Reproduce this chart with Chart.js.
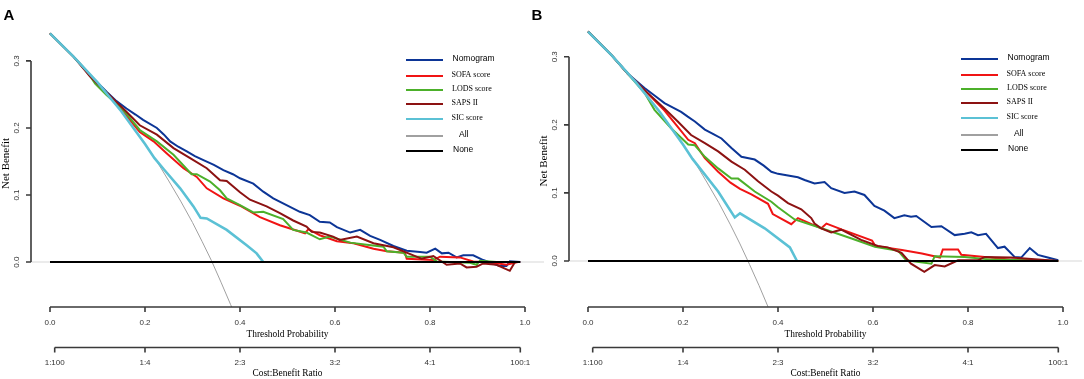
<!DOCTYPE html>
<html>
<head>
<meta charset="utf-8">
<script src="https://cdn.jsdelivr.net/npm/chart.js@4.4.1/dist/chart.umd.min.js"></script>
<style>
  html, body { margin: 0; padding: 0; background: #fff; }
  #wrap { position: relative; width: 1084px; height: 379px; overflow: hidden; }
  canvas { position: absolute; top: 0; }
</style>
</head>
<body>
<div id="wrap">
  <canvas id="chartA" width="545" height="379" style="left:0"></canvas>
  <canvas id="chartB" width="559" height="379" style="left:525px"></canvas>
</div>
<script>
// Кривые решений (decision curves), панели A и B
// точки: [порог, чистая выгода]

const seriesLabels = ['Nomogram', 'SOFA score', 'LODS score', 'SAPS II', 'SIC score', 'All', 'None'];
const seriesColors = ['#0c3596', '#f01414', '#4cb02a', '#8c1212', '#5bc1d5', '#a0a0a0', '#000000'];

const yTicks = [0.0, 0.1, 0.2, 0.3];
const xTicks = [0.0, 0.2, 0.4, 0.6, 0.8, 1.0];
const ratioTicks = [1 / 101, 0.2, 0.4, 0.6, 0.8, 100 / 101];
const ratioLabels = ['1:100', '1:4', '2:3', '3:2', '4:1', '100:1'];

// ---- панель A ----
const nomogramA = [[0,0.341],[0.05,0.306],[0.084,0.279],[0.119,0.254],[0.14,0.24],[0.161,0.229],[0.18,0.22],[0.196,0.212],[0.225,0.2],[0.24,0.19],[0.253,0.18],[0.27,0.172],[0.288,0.165],[0.305,0.158],[0.323,0.152],[0.345,0.145],[0.365,0.137],[0.385,0.131],[0.4,0.125],[0.428,0.117],[0.449,0.105],[0.47,0.095],[0.498,0.085],[0.526,0.075],[0.547,0.07],[0.568,0.06],[0.589,0.059],[0.604,0.052],[0.632,0.044],[0.653,0.048],[0.674,0.039],[0.695,0.033],[0.723,0.024],[0.751,0.017],[0.779,0.015],[0.793,0.014],[0.811,0.02],[0.825,0.013],[0.839,0.014],[0.856,0.007],[0.87,0.01],[0.891,0.01],[0.912,0.003],[0.947,-0.006],[0.961,-0.006],[0.968,0.001],[0.99,0]];
const sofaA = [[0,0.341],[0.05,0.306],[0.084,0.279],[0.119,0.252],[0.154,0.224],[0.189,0.194],[0.218,0.18],[0.246,0.162],[0.281,0.14],[0.309,0.127],[0.33,0.11],[0.365,0.095],[0.4,0.084],[0.442,0.067],[0.484,0.055],[0.537,0.043],[0.544,0.049],[0.568,0.04],[0.604,0.031],[0.639,0.028],[0.681,0.02],[0.709,0.016],[0.747,0.014],[0.751,0.005],[0.807,0.003],[0.821,0.008],[0.863,0.007],[0.891,0.001],[0.933,-0.001],[0.961,-0.004],[0.985,0]];
const lodsA = [[0,0.341],[0.05,0.306],[0.08,0.282],[0.095,0.266],[0.119,0.249],[0.154,0.227],[0.189,0.197],[0.225,0.18],[0.26,0.16],[0.298,0.131],[0.309,0.131],[0.337,0.12],[0.358,0.107],[0.372,0.095],[0.4,0.085],[0.428,0.074],[0.449,0.075],[0.491,0.064],[0.512,0.048],[0.54,0.044],[0.568,0.034],[0.589,0.038],[0.632,0.029],[0.667,0.026],[0.702,0.023],[0.709,0.016],[0.744,0.014],[0.751,0.008],[0.8,0.008],[0.814,0.001],[0.884,-0.001],[0.898,-0.004],[0.905,0.002],[0.94,0]];
const sapsA = [[0,0.341],[0.05,0.306],[0.084,0.277],[0.119,0.253],[0.154,0.229],[0.189,0.204],[0.225,0.19],[0.26,0.17],[0.295,0.155],[0.33,0.14],[0.358,0.122],[0.372,0.121],[0.4,0.104],[0.421,0.093],[0.456,0.083],[0.484,0.073],[0.512,0.062],[0.54,0.053],[0.551,0.045],[0.568,0.044],[0.596,0.038],[0.61,0.033],[0.646,0.038],[0.681,0.028],[0.723,0.022],[0.765,0.01],[0.782,0.005],[0.807,0.009],[0.835,-0.004],[0.863,-0.002],[0.877,-0.008],[0.898,-0.007],[0.912,-0.002],[0.94,-0.004],[0.968,-0.013],[0.979,0],[0.99,0]];
const sicA = [[0,0.341],[0.05,0.306],[0.1,0.268],[0.15,0.225],[0.2,0.176],[0.22,0.155],[0.24,0.138],[0.274,0.11],[0.302,0.083],[0.317,0.066],[0.33,0.065],[0.372,0.048],[0.414,0.025],[0.435,0.013],[0.449,0]];
const allA = [[0,0.341],[0.025,0.324],[0.05,0.306],[0.075,0.288],[0.1,0.268],[0.125,0.247],[0.15,0.225],[0.175,0.201],[0.2,0.176],[0.225,0.15],[0.25,0.121],[0.275,0.091],[0.3,0.059],[0.32,0.031],[0.34,0.002],[0.36,-0.03],[0.38,-0.063],[0.39,-0.08]];
const noneA = [[0,0],[0.99,0]];

// ---- панель B ----
const nomogramB = [[0,0.337],[0.05,0.302],[0.084,0.275],[0.119,0.254],[0.14,0.243],[0.161,0.232],[0.18,0.225],[0.196,0.219],[0.21,0.212],[0.225,0.205],[0.246,0.193],[0.265,0.186],[0.281,0.18],[0.302,0.166],[0.323,0.153],[0.351,0.149],[0.37,0.14],[0.386,0.131],[0.4,0.128],[0.442,0.123],[0.456,0.119],[0.477,0.114],[0.498,0.116],[0.512,0.107],[0.54,0.1],[0.561,0.102],[0.582,0.097],[0.603,0.081],[0.624,0.074],[0.645,0.063],[0.666,0.067],[0.68,0.065],[0.691,0.066],[0.723,0.05],[0.744,0.051],[0.772,0.038],[0.793,0.04],[0.807,0.042],[0.821,0.038],[0.838,0.04],[0.863,0.019],[0.877,0.021],[0.898,0.006],[0.912,0.005],[0.93,0.019],[0.947,0.009],[0.968,0.005],[0.99,0.001]];
const sofaB = [[0,0.337],[0.05,0.302],[0.084,0.275],[0.119,0.251],[0.161,0.221],[0.189,0.197],[0.211,0.178],[0.225,0.173],[0.246,0.151],[0.274,0.131],[0.3,0.115],[0.32,0.106],[0.344,0.098],[0.379,0.084],[0.389,0.069],[0.428,0.054],[0.442,0.063],[0.491,0.048],[0.502,0.055],[0.535,0.046],[0.598,0.03],[0.605,0.022],[0.661,0.016],[0.703,0.011],[0.741,0.005],[0.747,0.017],[0.779,0.017],[0.786,0.009],[0.835,0.006],[0.891,0.002],[0.99,0]];
const lodsB = [[0,0.337],[0.05,0.302],[0.084,0.275],[0.119,0.247],[0.14,0.222],[0.175,0.195],[0.211,0.171],[0.225,0.17],[0.246,0.153],[0.274,0.136],[0.302,0.121],[0.316,0.121],[0.351,0.102],[0.386,0.087],[0.4,0.079],[0.435,0.061],[0.484,0.05],[0.555,0.033],[0.604,0.021],[0.653,0.015],[0.67,0.001],[0.723,-0.004],[0.73,0.007],[0.793,0.006],[0.849,0.002],[0.99,0]];
const sapsB = [[0,0.337],[0.05,0.302],[0.084,0.275],[0.119,0.251],[0.161,0.224],[0.189,0.205],[0.217,0.185],[0.246,0.173],[0.274,0.161],[0.302,0.146],[0.33,0.134],[0.358,0.117],[0.386,0.102],[0.4,0.096],[0.421,0.085],[0.449,0.076],[0.47,0.063],[0.477,0.055],[0.491,0.048],[0.512,0.042],[0.533,0.046],[0.575,0.031],[0.61,0.022],[0.631,0.02],[0.66,0.012],[0.68,-0.004],[0.708,-0.016],[0.73,-0.006],[0.751,-0.008],[0.779,0.001],[0.821,0.001],[0.835,0.006],[0.891,0.005],[0.99,0]];
const sicB = [[0,0.337],[0.05,0.302],[0.1,0.263],[0.15,0.22],[0.2,0.171],[0.22,0.15],[0.274,0.102],[0.309,0.064],[0.32,0.07],[0.372,0.048],[0.425,0.02],[0.44,0]];
const allB = [[0,0.337],[0.025,0.32],[0.05,0.302],[0.075,0.283],[0.1,0.263],[0.125,0.242],[0.15,0.22],[0.175,0.196],[0.2,0.171],[0.225,0.145],[0.25,0.116],[0.275,0.086],[0.3,0.053],[0.32,0.025],[0.34,-0.005],[0.36,-0.036],[0.38,-0.069],[0.39,-0.087]];
const noneB = [[0,0],[0.99,0]];

const SANS = '"Liberation Sans", Arial, sans-serif';
const SERIF = '"Liberation Serif", "Times New Roman", serif';
const legendFonts = [SANS, SERIF, SERIF, SERIF, SERIF, SANS, SANS];

function pts(arr) {
    return arr.map(p => ({ x: p[0], y: p[1] }));
}

// оси в стиле R + легенда + буква панели
const rStylePlugin = {
    id: 'rStyle',
    afterDraw(chart, args, opts) {
        const ctx = chart.ctx;
        const xs = chart.scales.x;
        const ys = chart.scales.y;
        const area = chart.chartArea;
        ctx.save();

        // ось Y
        ctx.strokeStyle = '#3a3a3a';
        ctx.lineWidth = 1.6;
        const ax = area.left;
        ctx.beginPath();
        ctx.moveTo(ax, ys.getPixelForValue(yTicks[0]));
        ctx.lineTo(ax, ys.getPixelForValue(yTicks[yTicks.length - 1]));
        yTicks.forEach(v => {
            const py = ys.getPixelForValue(v);
            ctx.moveTo(ax, py);
            ctx.lineTo(ax - 5, py);
        });
        ctx.stroke();

        ctx.fillStyle = '#333';
        ctx.font = '8px ' + SANS;
        ctx.textAlign = 'center';
        ctx.textBaseline = 'middle';
        yTicks.forEach(v => {
            ctx.save();
            ctx.translate(ax - 14.5, ys.getPixelForValue(v));
            ctx.rotate(-Math.PI / 2);
            ctx.fillText(v.toFixed(1), 0, 0);
            ctx.restore();
        });

        ctx.save();
        ctx.fillStyle = '#000';
        ctx.font = '11px ' + SERIF;
        ctx.translate(ax - 24.5, (ys.getPixelForValue(0) + ys.getPixelForValue(0.3)) / 2 + 2);
        ctx.rotate(-Math.PI / 2);
        ctx.fillText('Net Benefit', 0, 0);
        ctx.restore();

        // ось X
        const by = area.bottom;
        ctx.beginPath();
        ctx.moveTo(xs.getPixelForValue(xTicks[0]), by);
        ctx.lineTo(xs.getPixelForValue(xTicks[xTicks.length - 1]), by);
        xTicks.forEach(v => {
            const px = xs.getPixelForValue(v);
            ctx.moveTo(px, by);
            ctx.lineTo(px, by + 5);
        });
        ctx.stroke();
        ctx.fillStyle = '#333';
        ctx.font = '8px ' + SANS;
        xTicks.forEach(v => ctx.fillText(v.toFixed(1), xs.getPixelForValue(v), by + 16));
        ctx.fillStyle = '#000';
        ctx.font = '9.4px ' + SERIF;
        const midX = (xs.getPixelForValue(0) + xs.getPixelForValue(1)) / 2;
        ctx.fillText('Threshold Probability', midX, by + 27.5);

        // ось Cost:Benefit
        const ry = by + 40.5;
        ctx.beginPath();
        ctx.moveTo(xs.getPixelForValue(ratioTicks[0]), ry);
        ctx.lineTo(xs.getPixelForValue(ratioTicks[ratioTicks.length - 1]), ry);
        ratioTicks.forEach(v => {
            const px = xs.getPixelForValue(v);
            ctx.moveTo(px, ry);
            ctx.lineTo(px, ry + 5);
        });
        ctx.stroke();
        ctx.fillStyle = '#333';
        ctx.font = '8px ' + SANS;
        ratioTicks.forEach((v, i) => ctx.fillText(ratioLabels[i], xs.getPixelForValue(v), ry + 15.5));
        ctx.fillStyle = '#000';
        ctx.font = '9.4px ' + SERIF;
        ctx.fillText('Cost:Benefit Ratio', midX, ry + 26);

        // легенда
        const rows = [0, 16, 30, 44, 59, 76, 91];
        const indent = [9.5, 8.5, 9, 8.5, 8.5, 16, 10];
        ctx.textAlign = 'left';
        seriesLabels.forEach((lab, i) => {
            const ly = opts.legendY + rows[i];
            ctx.strokeStyle = seriesColors[i];
            ctx.lineWidth = 2.2;
            ctx.beginPath();
            ctx.moveTo(opts.legendX, ly);
            ctx.lineTo(opts.legendX + 37, ly);
            ctx.stroke();
            ctx.fillStyle = '#000';
            ctx.font = (legendFonts[i] === SANS ? '8.5px ' : '8px ') + legendFonts[i];
            ctx.fillText(lab, opts.legendX + 37 + indent[i], ly - 1.5);
        });

        // буква панели
        ctx.font = 'bold 15px ' + SANS;
        ctx.fillStyle = '#000';
        ctx.textAlign = 'center';
        ctx.fillText(opts.panel, opts.panelX, 16);

        ctx.restore();
    }
};

function makePanel(canvasId, data, yMin, yMax, padLeft, padRight, legendX, legendY, panel, panelX) {
    const widths = [2, 2, 2, 2, 2.6, 1, 2];
    const orders = [6, 5, 4, 3, 2, 7, 1];
    const datasets = data.map((d, i) => ({
        label: seriesLabels[i],
        data: pts(d),
        borderColor: seriesColors[i],
        borderWidth: widths[i],
        pointRadius: 0,
        tension: 0,
        fill: false,
        order: orders[i]
    }));
    // светло-серая линия нуля по всей ширине
    datasets.push({
        label: 'zero',
        data: pts([[-0.04, 0], [1.04, 0]]),
        borderColor: '#e4e4e4',
        borderWidth: 1.5,
        pointRadius: 0,
        order: 9
    });

    new Chart(document.getElementById(canvasId), {
        type: 'line',
        data: { datasets: datasets },
        options: {
            responsive: false,
            animation: false,
            devicePixelRatio: 1,
            layout: { padding: { left: padLeft, right: padRight, top: 20, bottom: 72 } },
            scales: {
                x: { type: 'linear', min: -0.04, max: 1.04, display: false },
                y: { type: 'linear', min: yMin, max: yMax, display: false }
            },
            plugins: {
                legend: { display: false },
                tooltip: { enabled: false },
                rStyle: { legendX: legendX, legendY: legendY, panel: panel, panelX: panelX }
            }
        },
        plugins: [rStylePlugin]
    });
}

makePanel('chartA', [nomogramA, sofaA, lodsA, sapsA, sicA, allA, noneA], -0.067, 0.361, 31, 1, 406, 60, 'A', 9);
makePanel('chartB', [nomogramB, sofaB, lodsB, sapsB, sicB, allB, noneB], -0.0676, 0.354, 44, 2, 436, 59, 'B', 12);
</script>
</body>
</html>
